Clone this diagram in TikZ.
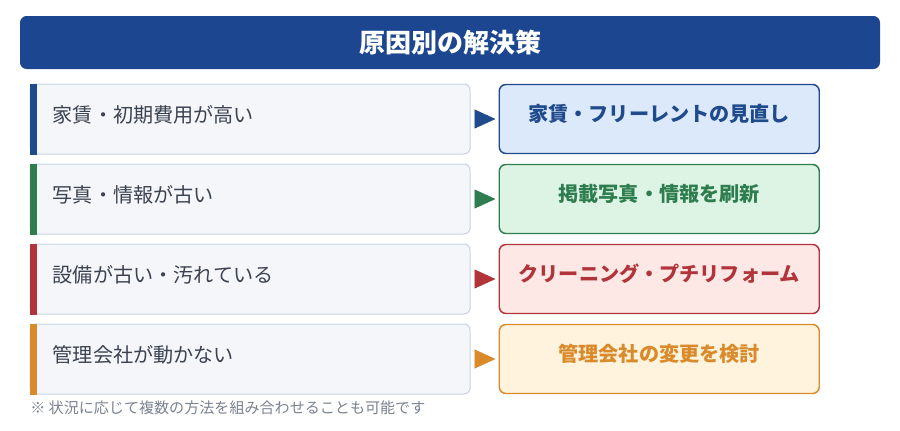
\documentclass[tikz,border=0pt]{standalone}
\usepackage{fontspec}
\setmainfont{Noto Sans CJK JP}
\usepackage{xcolor}
\usepackage{tikz}
\usetikzlibrary{arrows.meta}
\usetikzlibrary{positioning}

\definecolor{headblue}{HTML}{1C4690}
\definecolor{causeline}{HTML}{CAD3E0}
\definecolor{causefill}{HTML}{F4F6FA}
\definecolor{causetxt}{HTML}{3C4350}
\definecolor{notegray}{HTML}{7A8290}
\definecolor{rentblue}{HTML}{1F4A8C}
\definecolor{rentfill}{HTML}{DCE9FB}
\definecolor{photogreen}{HTML}{2E7D4E}
\definecolor{photofill}{HTML}{DDF4E5}
\definecolor{repairred}{HTML}{B0343A}
\definecolor{repairfill}{HTML}{FDE8E6}
\definecolor{mgmtorange}{HTML}{D98A2A}
\definecolor{mgmtfill}{HTML}{FFF3DD}

\tikzset{
  header/.style={fill=headblue, rounded corners=5pt, minimum width=645pt, minimum height=39.75pt,
    text=white, font=\bfseries\fontsize{19.5}{22}\selectfont},
  cause/.style={draw=causeline, fill=causefill, line width=0.75pt, rounded corners=4.5pt,
    minimum width=330pt, minimum height=52.5pt},
  causetext/.style={anchor=west, inner sep=0pt, text=causetxt, font=\fontsize{15.1}{18}\selectfont},
  fix/.style={line width=1.1pt, rounded corners=5pt, minimum width=240pt, minimum height=51.75pt},
  fixtext/.style={inner sep=0pt, font=\bfseries\fontsize{15.1}{18}\selectfont},
  pointer/.style={-{Triangle[length=15.75pt,width=14.25pt]}, line width=0.5pt,
    shorten <=3pt, shorten >=2.25pt},
}

\begin{document}
\begin{tikzpicture}[x=0.75pt,y=-0.75pt]
\useasboundingbox (0,0) rectangle (900,430);

\node[header] (head) at (450,42.5) {原因別の解決策};

% causes on the left
\node[cause] (L1) at (250,119) {};
\node[cause, below=6.75pt of L1] (L2) {};
\node[cause, below=6.75pt of L2] (L3) {};
\node[cause, below=6.75pt of L3] (L4) {};

\fill[rentblue] (L1.north west) rectangle ([xshift=5.25pt]L1.south west);
\fill[photogreen] (L2.north west) rectangle ([xshift=5.25pt]L2.south west);
\fill[repairred] (L3.north west) rectangle ([xshift=5.25pt]L3.south west);
\fill[mgmtorange] (L4.north west) rectangle ([xshift=5.25pt]L4.south west);

\node[causetext] (C1) at ([xshift=17.25pt,yshift=3pt]L1.west) {家賃・初期費用が高い};
\node[causetext] (C2) at ([xshift=17.25pt,yshift=3pt]L2.west) {写真・情報が古い};
\node[causetext] (C3) at ([xshift=17.25pt,yshift=3pt]L3.west) {設備が古い・汚れている};
\node[causetext] (C4) at ([xshift=17.25pt,yshift=3pt]L4.west) {管理会社が動かない};

% fixes on the right
\node[fix, draw=rentblue, fill=rentfill, right=21pt of L1] (R1) {};
\node[fix, draw=photogreen, fill=photofill, right=21pt of L2] (R2) {};
\node[fix, draw=repairred, fill=repairfill, right=21pt of L3] (R3) {};
\node[fix, draw=mgmtorange, fill=mgmtfill, right=21pt of L4] (R4) {};

\node[fixtext, text=rentblue] (F1) at ([yshift=3.75pt]R1.center) {家賃・フリーレントの見直し};
\node[fixtext, text=photogreen] (F2) at ([yshift=3.75pt]R2.center) {掲載写真・情報を刷新};
\node[fixtext, text=repairred] (F3) at ([yshift=3.75pt]R3.center) {クリーニング・プチリフォーム};
\node[fixtext, text=mgmtorange] (F4) at ([yshift=3.75pt]R4.center) {管理会社の変更を検討};

\draw[pointer, rentblue] (L1) -- (R1);
\draw[pointer, photogreen] (L2) -- (R2);
\draw[pointer, repairred] (L3) -- (R3);
\draw[pointer, mgmtorange] (L4) -- (R4);

\node[anchor=west, inner sep=0pt, text=notegray, font=\fontsize{11.3}{13}\selectfont] (note)
  at (30,408) {※ 状況に応じて複数の方法を組み合わせることも可能です};
\end{tikzpicture}
\end{document}
